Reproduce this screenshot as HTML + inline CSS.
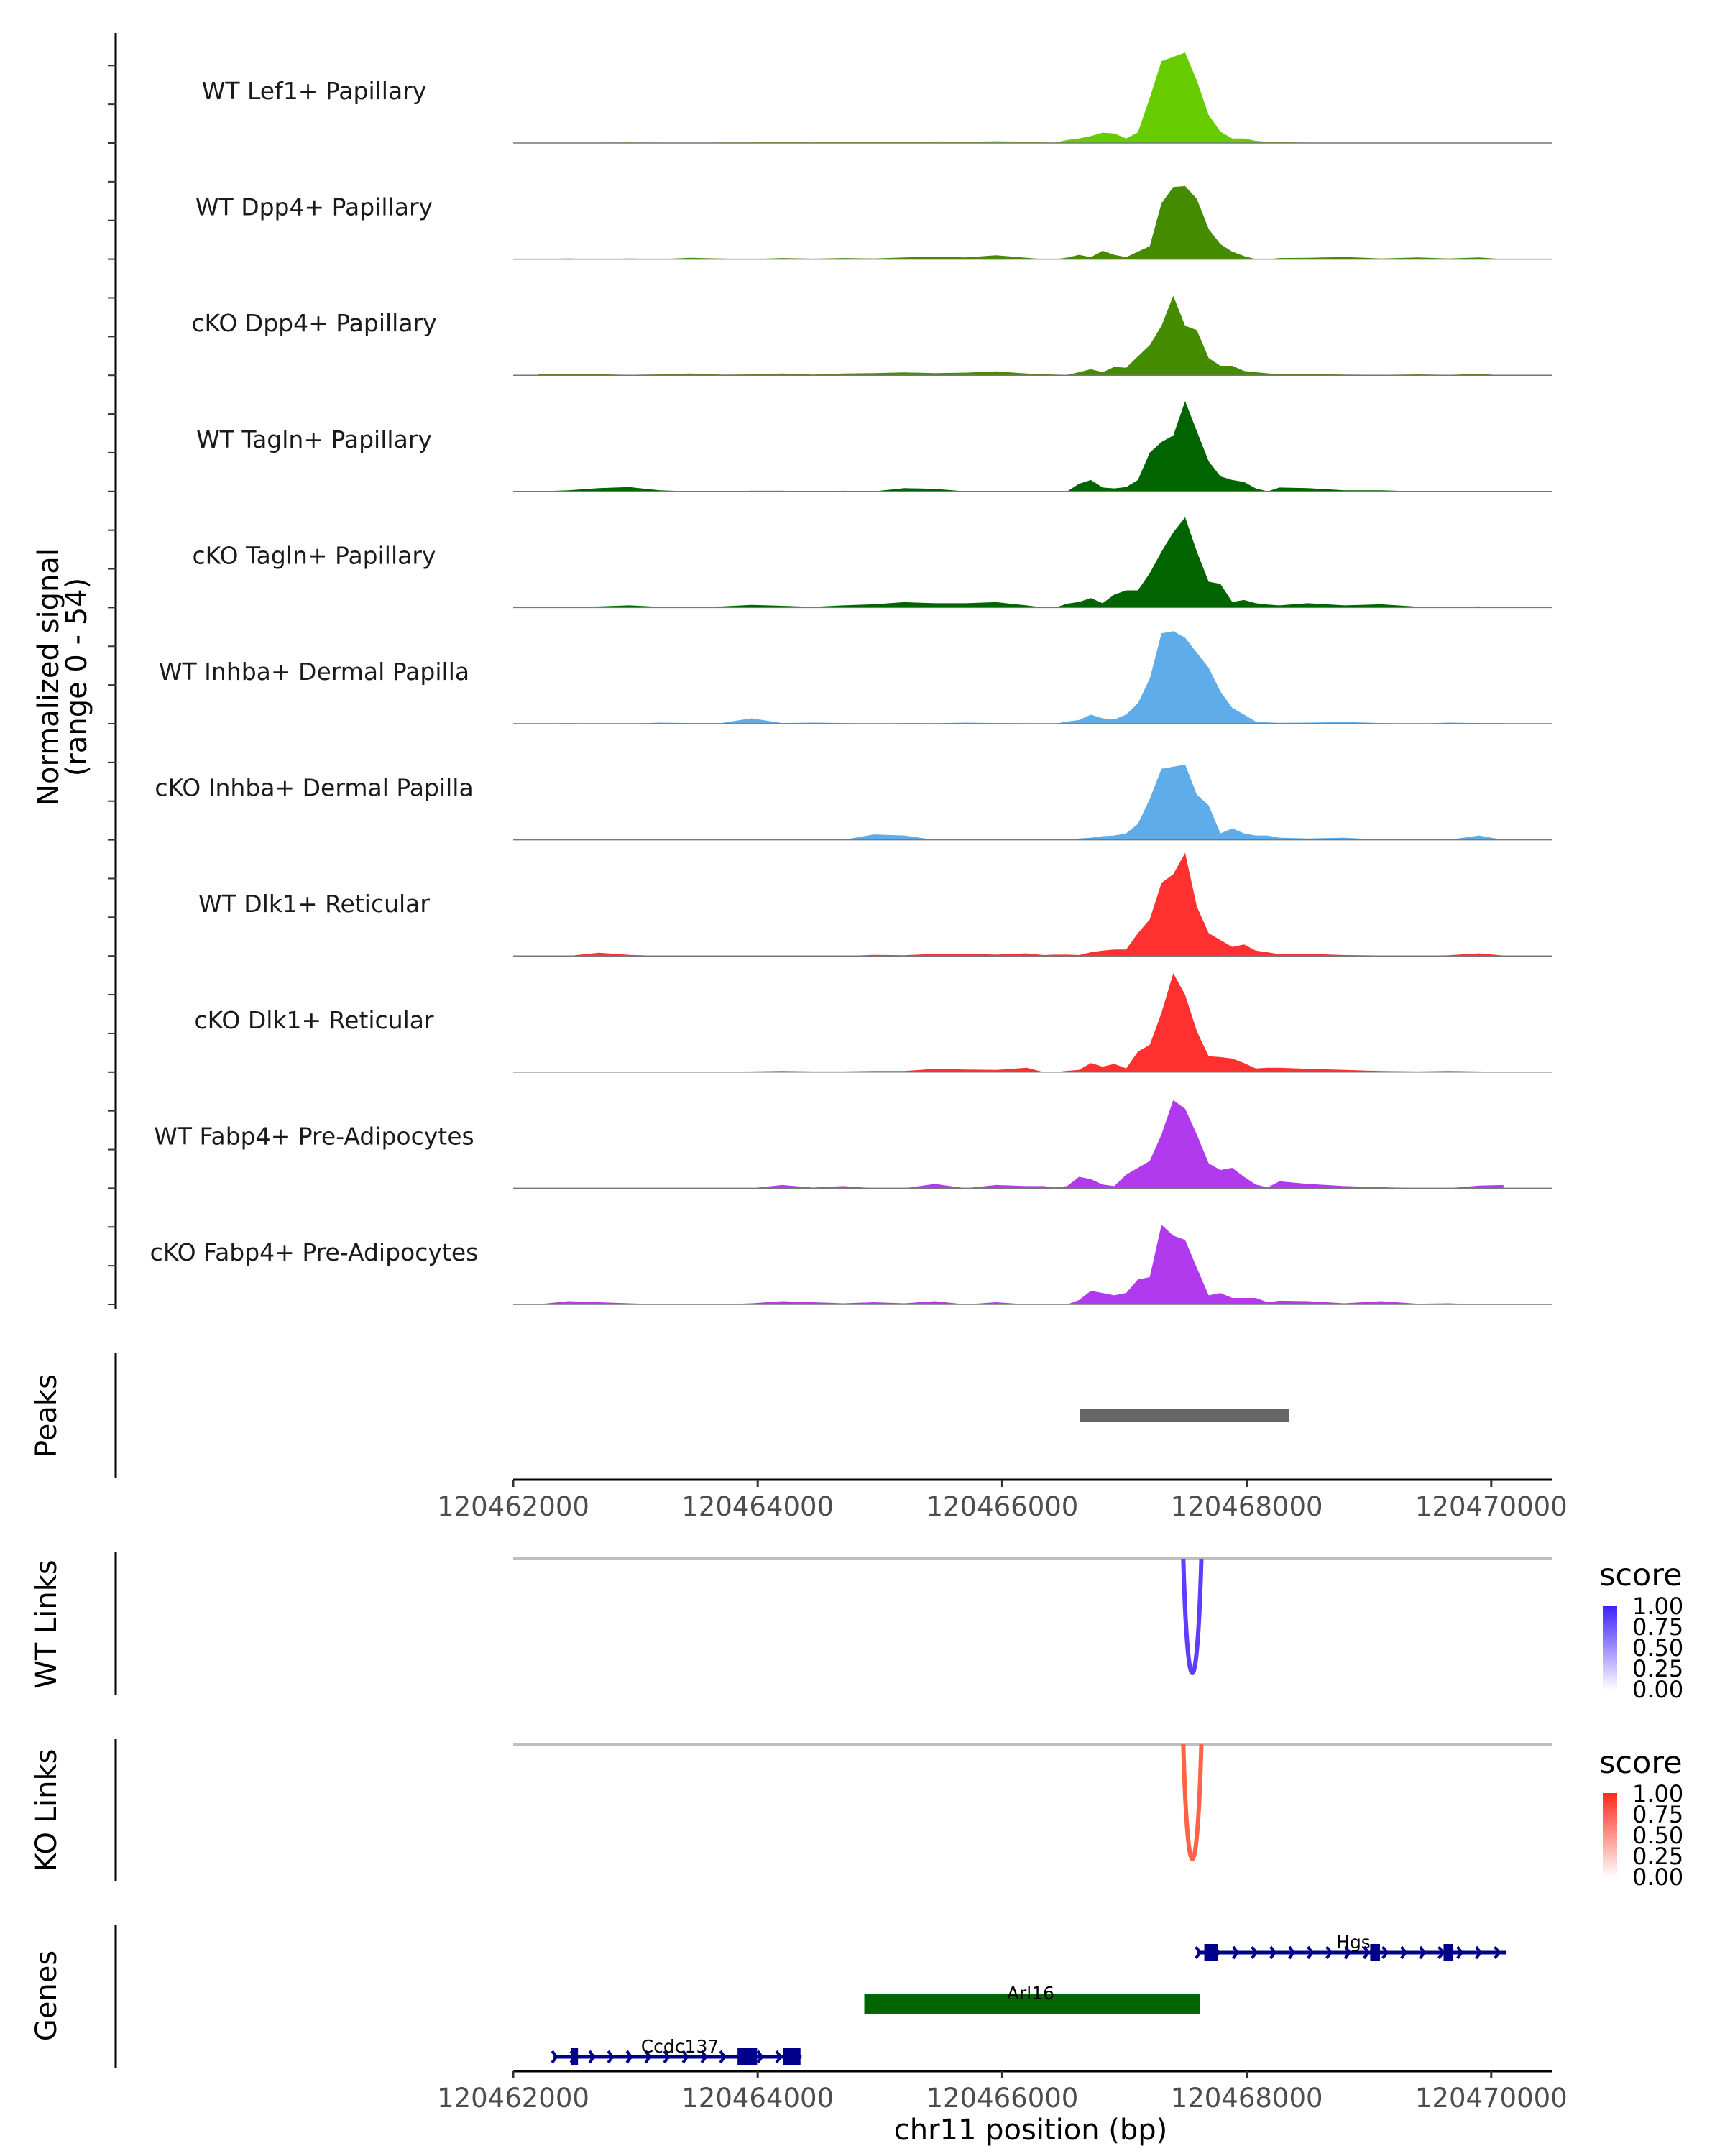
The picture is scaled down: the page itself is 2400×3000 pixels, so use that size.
<!DOCTYPE html>
<html><head><meta charset="utf-8"><style>
html,body{margin:0;padding:0;background:#fff;}
svg{display:block;font-family:"DejaVu Sans","Liberation Sans",sans-serif;}
</style></head><body>
<svg id="chart" width="2400" height="3000" viewBox="0 0 2400 3000" xmlns="http://www.w3.org/2000/svg">
<rect width="2400" height="3000" fill="#fff"/>
<g id="root">
<g id="tracks"></g>
<g id="axes"></g>
</g>
</svg>
<script>
const trackNames = ["WT Lef1+ Papillary","WT Dpp4+ Papillary","cKO Dpp4+ Papillary","WT Tagln+ Papillary","cKO Tagln+ Papillary","WT Inhba+ Dermal Papilla","cKO Inhba+ Dermal Papilla","WT Dlk1+ Reticular","cKO Dlk1+ Reticular","WT Fabp4+ Pre-Adipocytes","cKO Fabp4+ Pre-Adipocytes"];
const trackColors = ["#66cc00","#458b00","#458b00","#006400","#006400","#5eacea","#5eacea","#ff3030","#ff3030","#b23aee","#b23aee"];
const leftPositions = [120462200,120462450,120462700,120462950,120463200,120463450,120463700,120463950,120464200,120464450,120464700,120464950,120465200,120465450,120465700,120465950,120466200];
const corePositions = [120466339,120466435,120466532,120466628,120466725,120466821,120466917,120467014,120467110,120467207,120467303,120467399,120467496,120467592,120467689,120467785,120467881,120467978,120468074,120468171,120468267];
const rightPositions = [120468500,120468800,120469100,120469400,120469650,120469900,120470100];
const leftValues = [
[0,0,0.2,0.3,0.2,0,0.3,0.3,0.5,0.3,0.5,0.6,0.5,0.7,0.6,0.8,0.6],
[0,0.3,0,0.3,0,0.6,0.3,0,0.5,0.2,0.5,0.3,0.8,1.2,0.8,1.8,0.6],
[0.4,0.6,0.5,0.2,0.4,0.8,0.3,0.4,0.8,0.3,0.8,1,1.3,1,1.2,1.8,0.8],
[0,0.5,1.5,2,0.5,0,0,0.3,0.3,0,0.3,0,1.5,1.2,0,0,0],
[0,0.3,0.5,1,0.3,0.3,0.5,1.2,0.8,0.3,1,1.5,2.5,2,2,2.5,1],
[0,0.3,0,0,0.5,0.3,0.3,2.5,0.3,0.5,0.3,0,0.3,0.2,0.5,0.3,0.2],
[0,0,0,0,0,0,0,0,0,0,0,2.5,2,0,0,0,0],
[0,0,1.5,0.5,0,0,0,0,0,0,0,0.5,0.3,1,1,0.6,1.2],
[0,0,0,0,0,0,0.2,0.3,0.5,0.3,0.3,0.5,0.5,1.5,1.2,1,2],
[0,0,0,0,0,0,0,0,1.5,0.3,1,0,0,2,0,1.5,1],
[0,1.5,1,0.5,0,0,0,0.5,1.5,1,0.5,1,0.5,1.5,0,1,0]];
const coreValues = [
[0.3,0.2,1.4,2.1,3.2,4.8,4.4,2.1,4.9,21,38,40,42,29,13,5.3,2.1,2.1,1,0.5,0.4],
[0,0,0.7,2,0.9,3.9,2,0.9,3.5,6,26,33.5,34,28,14,7,3.5,1.4,0,0,0.5],
[0.5,0.3,0.2,1.4,2.8,1.4,3.9,3.5,8.8,14,23,37,23,21,8,4.4,4.4,2,1.4,0.9,0.4],
[0,0,0,3.5,5.3,1.8,1.4,2,5.3,18,23,26,42,28,14,7,5.3,4.4,1.4,0,1.8],
[0,0,1.8,2.6,4.4,2,6,8,8,16,26,35,42,26,12,11,2.6,3.5,2,1.4,1],
[0,0,1,1.7,4.2,2.5,2,4.2,9.5,21,42,43,40,33,26,15,7.4,4.2,1,0.6,0.4],
[0,0,0,0.6,1,1.7,2,3,7.4,19,33,34,35,21,16,3,5.3,3,2,2,1],
[0.4,0.6,0.6,0.4,1.7,2.5,3,3,10.6,17,34,38,48,23,10.6,7.4,4.2,5.3,2.5,1.7,0.8],
[0,0,0.6,1,4.2,2.5,3.8,1.7,9.5,12.7,27.5,46,36,19,7.4,7,6.3,4.2,1.7,2,2],
[1,0.4,1,5.3,4.2,1.7,1,6.3,9.5,12.7,25,41,37,25,11.6,8.5,9.5,5.3,1.7,0.4,3.2],
[0,0,0,2,6.3,5.3,4.2,5.3,11.6,12.7,37,32,30,17,4.2,5.3,3,3,3,1,1.7]];
const rightValues = [
[0.2,0,0.1,0,0,0.2,0],
[0.6,1,0.3,0.8,0.3,0.8,0],
[0.6,0.3,0.2,0.4,0.2,0.6,0],
[1.5,0.5,0.5,0,0,0,0],
[2,1,1.5,0.4,0.3,0.5,0],
[0.5,0.8,0.3,0,0.5,0.3,0.3],
[0.6,1,0,0,0,2,0],
[1,0.4,0.2,0,0.3,1.2,0.2],
[1.5,1,0.5,0.3,0.5,0.3,0],
[2,1,0.5,0,0,1.2,1.5],
[1.5,0.5,1.5,0.3,0.5,0,0]];
const yMax = 54;
const xTicks = [120462000,120464000,120466000,120468000,120470000];
const peakRegion = [120466635,120468345];
const wtLink = [120467481,120467629];
const koLink = [120467481,120467629];
const legendTicks = ["1.00","0.75","0.50","0.25","0.00"];
const genes = [
 {name:"Hgs",start:120467595,end:120470125,row:0,exons:[[120467653,120467767],[120469010,120469090],[120469610,120469690]],strand:1,color:"#00008b"},
 {name:"Arl16",start:120464872,end:120467618,row:1,exons:[[120464872,120467618]],strand:0,color:"#006400"},
 {name:"Ccdc137",start:120462330,end:120464359,row:2,exons:[[120462470,120462530],[120463835,120463995],[120464210,120464350]],strand:1,color:"#00008b"}];

const NS="http://www.w3.org/2000/svg";
const X0=714, PX_PER_BP=0.1701, XR=2160;
function xs(bp){return X0+(bp-120462000)*PX_PER_BP;}
const BASE0=199, STEP=161.6, TH=161.6;
function mk(tag,attrs,parent,text){const e=document.createElementNS(NS,tag);for(const k in attrs)e.setAttribute(k,attrs[k]);if(text!==undefined)e.textContent=text;parent.appendChild(e);return e;}
const tg=document.getElementById('tracks');
const ax=document.getElementById('axes');

for(let i=0;i<trackNames.length;i++){
  const base=BASE0+i*STEP;
  const pos=leftPositions.concat(corePositions,rightPositions);
  const vals=leftValues[i].concat(coreValues[i],rightValues[i]);
  let d="M"+xs(pos[0])+","+base;
  for(let j=0;j<pos.length;j++){d+=" L"+xs(pos[j]).toFixed(1)+","+(base-vals[j]/yMax*TH).toFixed(1);}
  d+=" L"+xs(pos[pos.length-1])+","+base+" Z";
  const p=mk('path',{d:d,fill:trackColors[i]},tg);
  
  
  const bl=mk('line',{x1:X0,x2:XR,y1:base,y2:base,stroke:"#777",'stroke-width':1.5},tg);
  
  
  const t=mk('text',{x:437,y:base-72+11,'text-anchor':'middle','font-size':33,fill:'#1a1a1a'},tg,trackNames[i]);
  
  
}
let a=mk('line',{x1:161,x2:161,y1:46,y2:1821,stroke:"#000",'stroke-width':3},ax);


for(let k=0;k<33;k++){const y=1815-k*STEP/3;
  const tk=mk('line',{x1:150,x2:161,y1:y,y2:y,stroke:"#333",'stroke-width':2},ax);
  
  }
function rotText(x,y,txt,name){const t=mk('text',{x:0,y:0,transform:"translate("+x+","+y+") rotate(-90)",'text-anchor':'middle','font-size':40,fill:'#000'},ax,txt);
  
  }
rotText(81,942,"Normalized signal","y-axis-title");
rotText(120,942,"(range 0 - 54)","y-axis-range");
a=mk('line',{x1:161,x2:161,y1:1883,y2:2057,stroke:"#000",'stroke-width':3},ax);


rotText(78,1970,"Peaks","peaks-title");
const pk=mk('rect',{x:xs(peakRegion[0]),y:1961,width:xs(peakRegion[1])-xs(peakRegion[0]),height:18,fill:"#666"},ax);


function xAxis(y,name){
  const l=mk('line',{x1:X0,x2:XR,y1:y,y2:y,stroke:"#000",'stroke-width':3},ax);
  
  
  xTicks.forEach(v=>{const x=xs(v);
    const tk=mk('line',{x1:x,x2:x,y1:y,y2:y+10,stroke:"#333",'stroke-width':3},ax);
    
    
    const t=mk('text',{x:x,y:y+50,'text-anchor':'middle','font-size':37,fill:'#4d4d4d'},ax,String(v));
    
    });
}
xAxis(2059,'peaks-x-axis');
function links(top,bottom,grayY,link,color,title,ty,grad,name){
  const l=mk('line',{x1:161,x2:161,y1:top,y2:bottom,stroke:"#000",'stroke-width':3},ax);
  
  
  rotText(78,ty,title,name+'-title');
  const g=mk('line',{x1:X0,x2:XR,y1:grayY,y2:grayY,stroke:"#bebebe",'stroke-width':4},ax);
  
  
  const x1=xs(link[0]),x2=xs(link[1]),yb=bottom-8;
  const d="M"+x1+","+grayY+" C"+(x1+6)+","+(yb+30)+" "+(x2-6)+","+(yb+30)+" "+x2+","+grayY;
  const p=mk('path',{d:d,fill:"none",stroke:color,'stroke-width':6},ax);
  
  
  const ly=top+47;
  const st=mk('text',{x:2225,y:ly,'font-size':43,fill:'#000'},ax,"score");
  
  
  const cb=mk('rect',{x:2230,y:ly+28,width:20,height:118,fill:"url(#"+grad+")"},ax);
  
  
  legendTicks.forEach((s,k)=>{const t=mk('text',{x:2271,y:ly+40+k*29,'font-size':32,fill:'#000'},ax,s);
    
    });
}
const defs=mk('defs',{},document.getElementById('chart'));
const g1=mk('linearGradient',{id:'gb',x1:0,y1:1,x2:0,y2:0},defs);
mk('stop',{offset:0,'stop-color':'#ffffff'},g1);mk('stop',{offset:1,'stop-color':'#3c1fff'},g1);
const g2=mk('linearGradient',{id:'gr',x1:0,y1:1,x2:0,y2:0},defs);
mk('stop',{offset:0,'stop-color':'#ffffff'},g2);mk('stop',{offset:1,'stop-color':'#ff2a1a'},g2);
links(2159,2359,2169,wtLink,"#5f3cff","WT Links",2260,"gb","wt-links");
links(2420,2618,2427,koLink,"#ff6347","KO Links",2519,"gr","ko-links");
a=mk('line',{x1:161,x2:161,y1:2678,y2:2877,stroke:"#000",'stroke-width':3},ax);


rotText(78,2777,"Genes","genes-title");
const rowY=[2717,2788,2862];
genes.forEach(gn=>{const y=rowY[gn.row];
  const grp=mk('g',{},ax);
  
  
  if(gn.strand){
    mk('line',{x1:xs(gn.start),x2:xs(gn.end),y1:y,y2:y,stroke:gn.color,'stroke-width':5},grp);
    for(let x=xs(gn.start)+4;x<xs(gn.end);x+=26){mk('path',{d:"M"+(x-6)+","+(y-8)+" L"+x+","+y+" L"+(x-6)+","+(y+8),fill:'none',stroke:gn.color,'stroke-width':4},grp);}
    gn.exons.forEach((e,k)=>{mk('rect',{x:xs(e[0]),y:y-12,width:Math.max(8,xs(e[1])-xs(e[0])),height:24,fill:gn.color},grp);});
  } else {
    mk('rect',{x:xs(gn.start),y:y-13,width:xs(gn.end)-xs(gn.start),height:27,fill:gn.color},grp);
  }
  const lx={Hgs:1883,Arl16:1434,Ccdc137:946}[gn.name];
  const t=mk('text',{x:lx,y:y-6,'text-anchor':'middle','font-size':25,fill:'#000'},grp,gn.name);
  
  
});
xAxis(2882,'genes-x-axis');
const xt=mk('text',{x:1434,y:2977,'text-anchor':'middle','font-size':40,fill:'#000'},ax,"chr11 position (bp)");


</script>
</body></html>
